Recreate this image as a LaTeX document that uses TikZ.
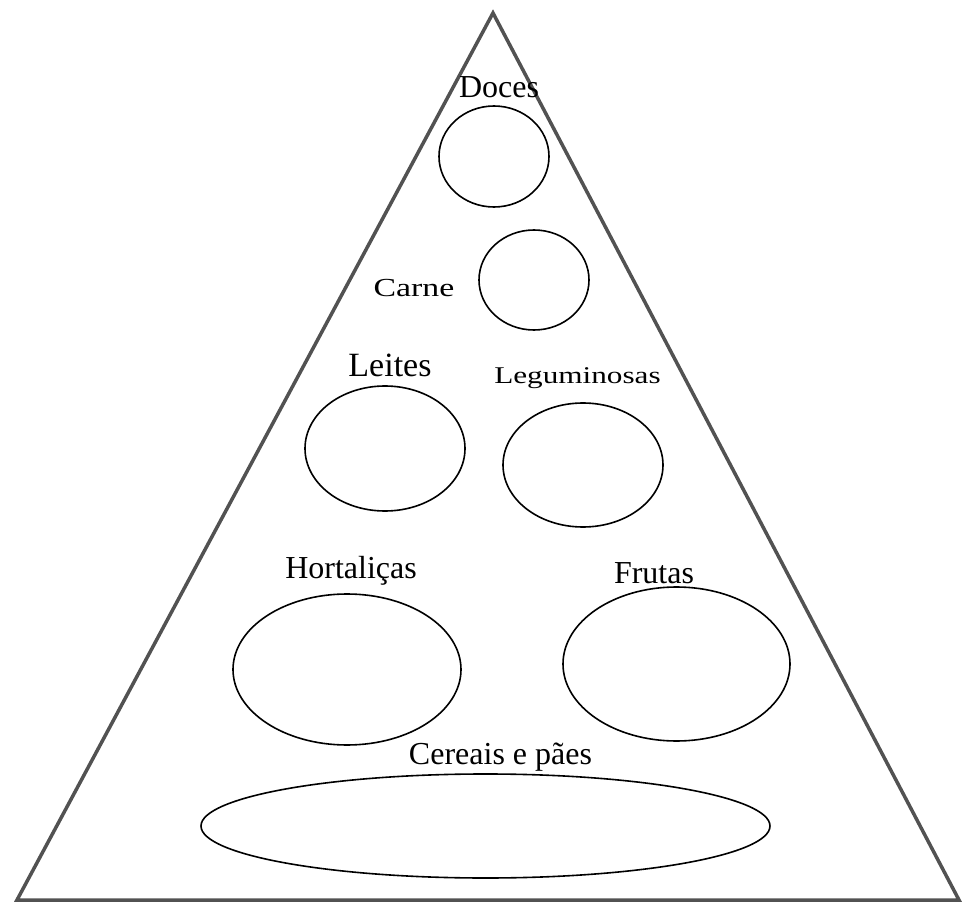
\documentclass[tikz,border=0pt]{standalone}
\usepackage{fontspec}
\setmainfont{Liberation Serif}
\newfontfamily\largafont[FakeStretch=1.3]{Liberation Serif}
\usepackage{tikz}
\usetikzlibrary{shapes.geometric}
\tikzset{
  piramide/.style={
    draw = black!68,
    line width = 3.5pt,
    line join = miter
  },
  prato/.style={
    shape = ellipse,
    draw,
    line width = 1.6pt,
    inner sep = 0pt
  },
  rotulo/.style={
    anchor = base,
    inner sep = 0pt,
    font = \fontsize{32}{37}\selectfont
  },
  rotulolargo/.style={
    anchor = base,
    inner sep = 0pt,
    font = \largafont\fontsize{25}{30}\selectfont
  }
}
\begin{document}
\begin{tikzpicture}[x=1pt,y=-1pt]
        \useasboundingbox (0,0) rectangle (962,904);
        \coordinate (topo) at (493,13);
        \coordinate (esq) at (17,900);
        \coordinate (dir) at (959,900);
        \draw[piramide] (topo)--(dir)--(esq)--cycle;
        % alimentos
        \node[prato, minimum width=110, minimum height=101] (doces) at (494,156.5) {};
        \node[prato, minimum width=110, minimum height=100] (carne) at (534,280) {};
        \node[prato, minimum width=160, minimum height=125] (leites) at (385,448.5) {};
        \node[prato, minimum width=160, minimum height=124] (legum) at (583,465) {};
        \node[prato, minimum width=228, minimum height=151] (hortal) at (347,669.5) {};
        \node[prato, minimum width=227, minimum height=154] (frutas) at (676.5,664) {};
        \node[prato, minimum width=569, minimum height=104] (cereais) at (485.5,826) {};
        \node[rotulo] (tdoces) at (499,98) {Doces};
        \node[rotulolargo, font=\largafont\fontsize{26}{31}\selectfont] (tcarne) at (414,297) {Carne};
        \node[rotulo, font=\fontsize{34}{39}\selectfont] (tleites) at (390,377) {Leites};
        \node[rotulolargo, font=\largafont\fontsize{24}{29}\selectfont] (tlegum) at (577.5,383) {Leguminosas};
        \node[rotulo] (thortal) at (351,578) {Hortaliças};
        \node[rotulo] (tfrutas) at (654,583) {Frutas};
        \node[rotulo] (tcereais) at (500.5,764) {Cereais e pães};
    \end{tikzpicture}
\end{document}
